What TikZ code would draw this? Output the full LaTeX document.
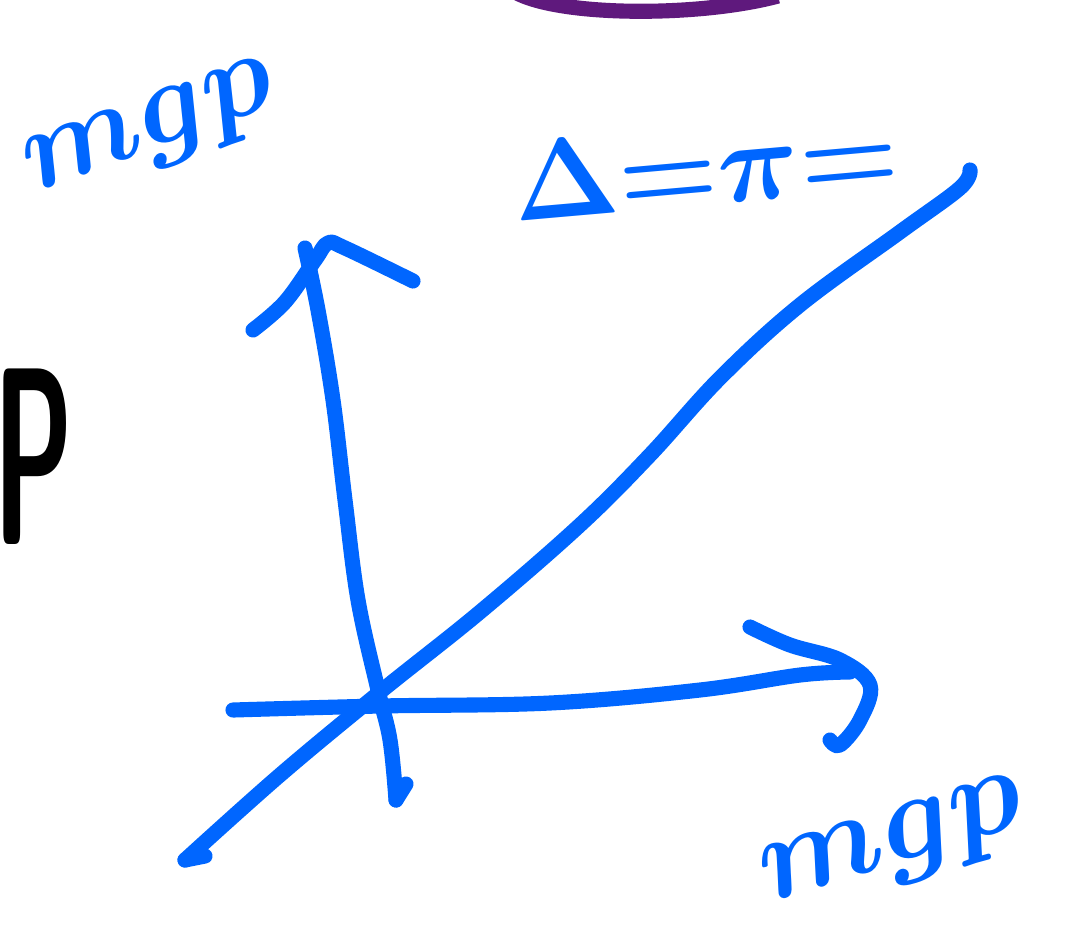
\documentclass[tikz,border=0pt]{standalone}
\usepackage{amsmath,amssymb}
\usepackage{bm}
\usepackage{tikz}
\usetikzlibrary{positioning,calc}
\definecolor{penblue}{RGB}{0,102,255}
\definecolor{penpurple}{RGB}{95,25,125}
\tikzset{
  pen/.style={line width=4.3pt, line cap=round, line join=round, penblue},
  scrawl/.style={penblue, inner sep=0pt, font=\fontsize{46}{46}\selectfont}
}
\begin{document}
\begin{tikzpicture}
\useasboundingbox (0,0) rectangle (10.77,9.34);
\clip (0,0) rectangle (10.77,9.34);
% axis end points
\coordinate (vbot) at (3.96,1.34);
\coordinate (vtop) at (3.05,6.86);
\coordinate (hleft) at (2.33,2.24);
\coordinate (hright) at (8.50,2.62);
\coordinate (dlow) at (1.85,0.74);
\coordinate (dhigh) at (9.70,7.64);
% vertical axis
\draw[pen] plot[smooth, tension=0.6] coordinates {(vbot) (3.90,1.94) (3.78,2.44) (3.58,3.34) (3.45,4.34) (3.33,5.34) (3.18,6.24) (vtop)};
\draw[pen] (vbot) -- (4.06,1.50);
\draw[pen] plot[smooth, tension=0.6] coordinates {(2.53,6.04) (2.85,6.32) (3.15,6.74) (3.28,6.91) (3.45,6.86) (4.13,6.53)};
% horizontal axis
\draw[pen] plot[smooth, tension=0.6] coordinates {(hleft) (3.80,2.28) (5.50,2.31) (7.00,2.44) (8.00,2.59) (hright)};
\draw[pen] plot[smooth, tension=0.6] coordinates {(7.50,3.07) (7.90,2.89) (8.40,2.74) (8.70,2.49) (8.60,2.14) (8.40,1.89) (8.30,1.94)};
% diagonal
\draw[pen] plot[smooth, tension=0.6] coordinates {(dlow) (2.80,1.59) (3.80,2.42) (4.80,3.22) (5.80,4.09) (6.50,4.79) (7.20,5.56) (8.00,6.29) (9.00,7.02) (9.60,7.46) (dhigh)};
\draw[pen] (dlow) -- (2.05,0.78);
% purple arc at top
\draw[line width=4.3pt, penpurple] (5.15,9.42) .. controls (5.6,9.17) and (7.0,9.17) .. (7.78,9.38);
% labels
\node[scrawl, rotate=20, scale=1.35] (mgtop) at (1.52,8.00) {$\bm{mgp}$};
\node[scrawl, rotate=5, scale=1.3] (delta) at (7.05,7.68) {$\bm{\Delta{=}\pi{=}}$};
\node[scrawl, rotate=17, scale=1.4] (mgbot) at (8.95,0.86) {$\bm{mgp}$};
\node[inner sep=0pt, xscale=0.45, font=\fontsize{72}{72}\sffamily\bfseries\selectfont] (pleft) at (0.34,4.77) {P};
\end{tikzpicture}
\end{document}
